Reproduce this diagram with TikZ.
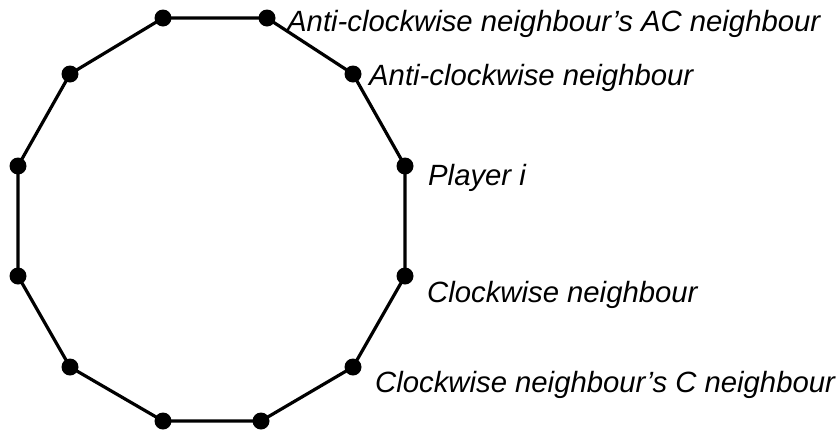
\documentclass[tikz,border=0pt]{standalone}
\usepackage{fontspec}
\setmainfont{Liberation Sans}
\begin{document}
\begin{tikzpicture}[x=1pt,y=-1pt,
  dot/.style={circle,fill=black,inner sep=0pt,minimum size=17pt},
  edge/.style={line width=3.2pt},
  lab/.style={anchor=base west,inner sep=0pt,font=\fontsize{29.3}{33}\selectfont\itshape}]
\useasboundingbox (0,0) rectangle (839,429);
\node[dot] (p1) at (163,18) {};
\node[dot] (p2) at (267,18) {};
\node[dot] (p3) at (353,74) {};
\node[dot] (p4) at (405,166) {};
\node[dot] (p5) at (405,276) {};
\node[dot] (p6) at (353,367) {};
\node[dot] (p7) at (261,421) {};
\node[dot] (p8) at (163,421) {};
\node[dot] (p9) at (70,367) {};
\node[dot] (p10) at (18,276) {};
\node[dot] (p11) at (18,166) {};
\node[dot] (p12) at (70,74) {};
\draw[edge] (p1.center) -- (p2.center) -- (p3.center) -- (p4.center) -- (p5.center) -- (p6.center) -- (p7.center) -- (p8.center) -- (p9.center) -- (p10.center) -- (p11.center) -- (p12.center) -- cycle;
\node[lab] (t1) at (287,31) {Anti-clockwise neighbour’s AC neighbour};
\node[lab] (t2) at (369,85) {Anti-clockwise neighbour};
\node[lab] (t3) at (428,185) {Player i};
\node[lab] (t4) at (427,302) {Clockwise neighbour};
\node[lab] (t5) at (375,392) {Clockwise neighbour’s C neighbour};
\end{tikzpicture}
\end{document}
